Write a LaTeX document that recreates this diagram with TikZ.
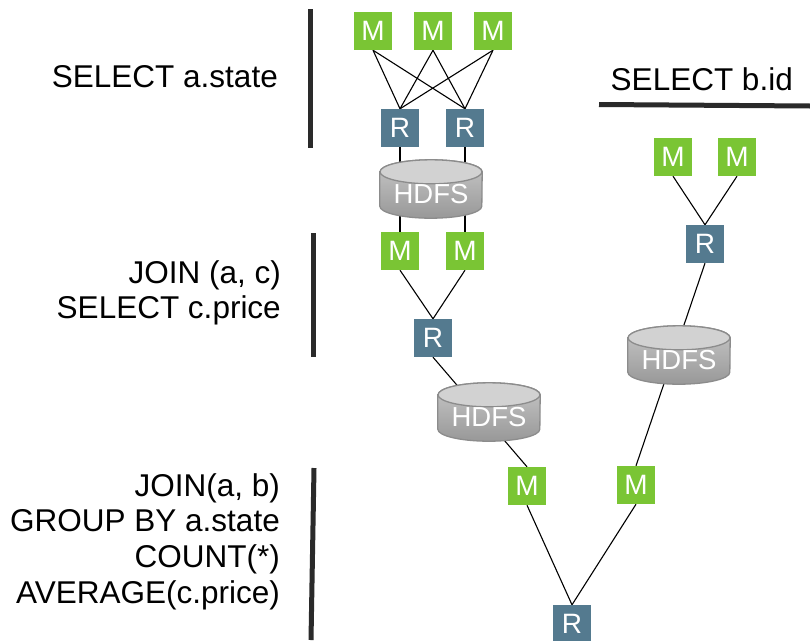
\documentclass[tikz,border=0pt]{standalone}
\usepackage{fontspec}
\setmainfont{Liberation Sans}
\usetikzlibrary{calc}

\definecolor{mapgreen}{RGB}{122,197,52}
\definecolor{reduceblue}{RGB}{84,122,143}
\definecolor{barcol}{RGB}{42,42,42}
\definecolor{cyledge}{RGB}{140,140,140}
\definecolor{cyltop}{RGB}{200,200,200}
\definecolor{cylbot}{RGB}{152,152,152}
\definecolor{cylcap}{RGB}{210,210,210}

\pgfdeclarelayer{paper}
\pgfdeclarelayer{edges}
\pgfdeclarelayer{shapes}
\pgfsetlayers{paper,edges,shapes,main}

\tikzset{
  mapbox/.style={fill=mapgreen, text=white, minimum size=38pt, inner sep=0pt,
    font=\fontsize{28}{28}\selectfont},
  reducebox/.style={fill=reduceblue, text=white, minimum size=38pt, inner sep=0pt,
    font=\fontsize{28}{28}\selectfont},
  store/.style={minimum width=102pt, minimum height=58pt, inner sep=0pt, text=white,
    font=\fontsize{27.5}{27.5}\selectfont},
  qtext/.style={anchor=base east, inner sep=0pt, font=\fontsize{31.5}{31.5}\selectfont},
  bar/.style={draw=barcol, line width=5pt},
  link/.style={draw=black, line width=1.1pt}
}

% HDFS store drawn as a shaded cylinder under its label node;
% the label sits a little below the middle, on the cylinder body
\newcommand\hdfsstore[2]{%
  \node[store] (#1) at (#2) {\raisebox{-5pt}[\height][0pt]{HDFS}};
  \begin{pgfonlayer}{shapes}
    \path[top color=cyltop, bottom color=cylbot, draw=cyledge, line width=1.3pt]
      ($(#1.north west)+(0,-12pt)$) -- ($(#1.south west)+(0,12pt)$)
      arc[start angle=180, end angle=360, x radius=51pt, y radius=12pt]
      -- ($(#1.north east)+(0,-12pt)$)
      arc[start angle=0, end angle=180, x radius=51pt, y radius=12pt] -- cycle;
    \path[fill=cylcap, draw=cyledge, line width=1.3pt]
      ($(#1.north)+(0,-12pt)$) ellipse[x radius=51pt, y radius=12pt];
  \end{pgfonlayer}
}

\begin{document}
\begin{tikzpicture}[x=1pt, y=-1pt]
  \useasboundingbox (0,0) rectangle (810,640);
  \begin{pgfonlayer}{paper}
    \fill[white] (0,0) rectangle (810,640);
  \end{pgfonlayer}

  % query stage labels
  \node[qtext] (qa) at (278,87) {SELECT a.state};
  \node[qtext] (qb) at (793,90) {SELECT b.id};
  \node[qtext] (qc1) at (281,283) {JOIN (a, c)};
  \node[qtext] (qc2) at (281,318) {SELECT c.price};
  \node[qtext] (qd1) at (280,496) {JOIN(a, b)};
  \node[qtext] (qd2) at (280,531) {GROUP BY a.state};
  \node[qtext] (qd3) at (280,567) {COUNT(*)};
  \node[qtext] (qd4) at (280,603) {AVERAGE(c.price)};

  % stage separators
  \draw[bar] (310.5,9) -- (310.5,148);
  \draw[bar] (313.5,233) -- (313.5,357);
  \draw[bar] (314,468) -- (311,640);
  \draw[bar] (599,104.5) -- (810,106);

  % stage 1: scan of a
  \node[mapbox] (m1) at (373,31) {M};
  \node[mapbox] (m2) at (433,31) {M};
  \node[mapbox] (m3) at (493,31) {M};
  \node[reducebox] (r1) at (400,128) {R};
  \node[reducebox] (r2) at (465,128) {R};
  \hdfsstore{h1}{431,189}

  % stage 2: join with c
  \node[mapbox] (m4) at (400,251) {M};
  \node[mapbox] (m5) at (465,251) {M};
  \node[reducebox] (r3) at (433,338) {R};
  \hdfsstore{h2}{489,412}

  % side job: scan of b
  \node[mapbox] (m6) at (673,157) {M};
  \node[mapbox] (m7) at (737,157) {M};
  \node[reducebox] (r4) at (705,244) {R};
  \hdfsstore{h3}{679,355}

  % final stage: join with b and aggregate
  \node[mapbox] (m8) at (527,486) {M};
  \node[mapbox] (m9) at (636,485) {M};
  \node[reducebox] (r5) at (572,624) {R};

  \begin{pgfonlayer}{edges}
    \foreach \m in {m1,m2,m3}
      \foreach \r in {r1,r2}
        \draw[link] (\m.south) -- (\r.north);
    \draw[link] (r1.south) -- (m4.north);
    \draw[link] (r2.south) -- (m5.north);
    \draw[link] (m4.south) -- (r3.north);
    \draw[link] (m5.south) -- (r3.north);
    \draw[link] (r3.south) -- (m8.north);
    \draw[link] (m6.south) -- (r4.north);
    \draw[link] (m7.south) -- (r4.north);
    \draw[link] (r4.south) -- (m9.north);
    \draw[link] (m8.south) -- (r5.north);
    \draw[link] (m9.south) -- (r5.north);
  \end{pgfonlayer}
\end{tikzpicture}
\end{document}
